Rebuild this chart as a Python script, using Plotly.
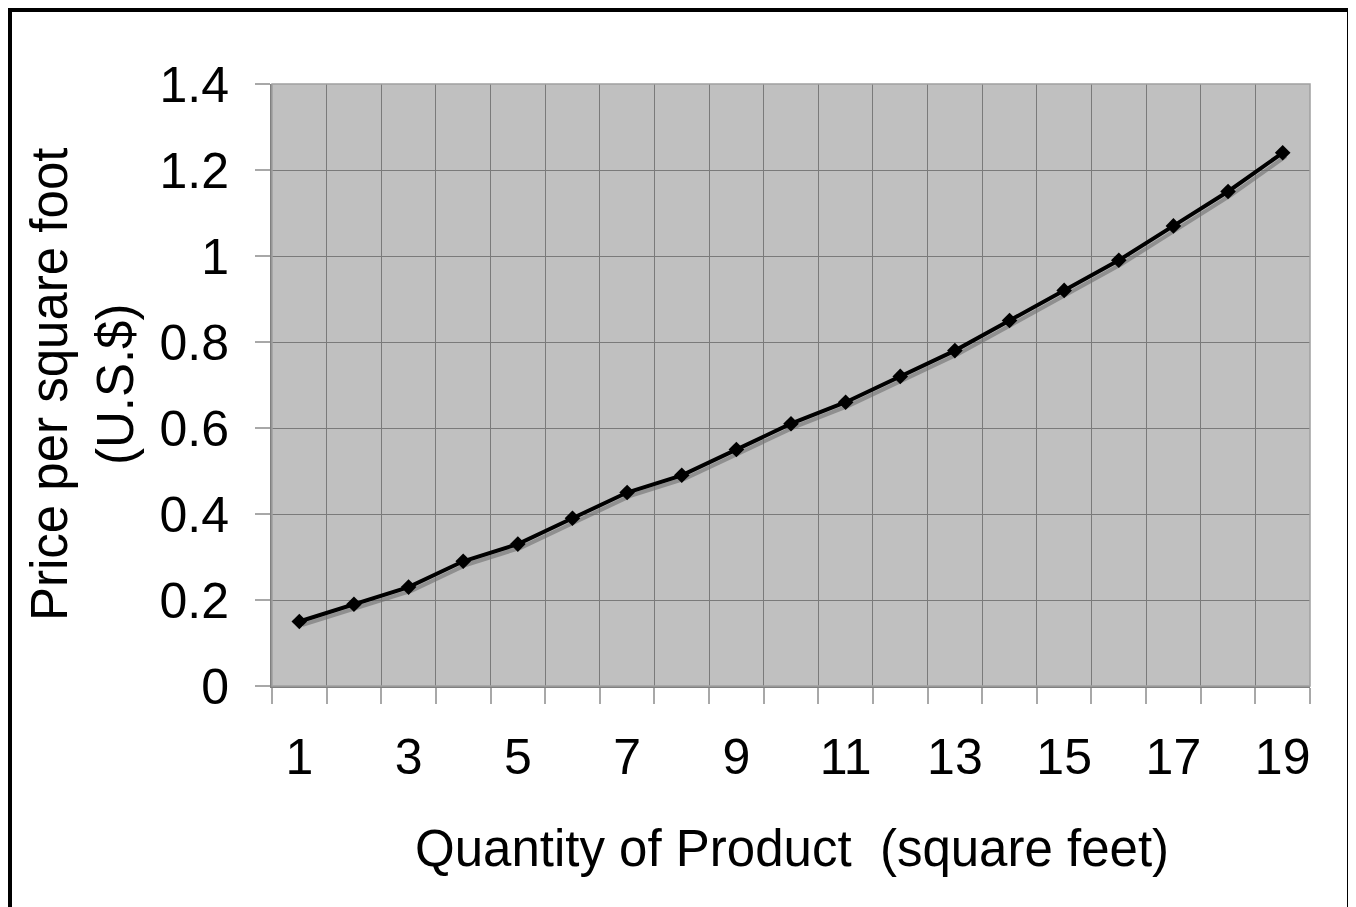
import plotly.graph_objects as go

quantity = list(range(1, 20))
price = [0.15, 0.19, 0.23, 0.29, 0.33, 0.39, 0.45, 0.49, 0.55, 0.61,
         0.66, 0.72, 0.78, 0.85, 0.92, 0.99, 1.07, 1.15, 1.24]
x_tick_labels = [1, 3, 5, 7, 9, 11, 13, 15, 17, 19]

FONT = "Liberation Sans, Arial, sans-serif"
# the page body adds an 8px offset, so target positions are shifted by -8
OFF = 8
L, R, T, B = 272 - OFF, 1310 - OFF, 84 - OFF, 686 - OFF
PLOT_W = R - L
PLOT_H = B - T

fig = go.Figure()
# soft drop shadow under the line (Excel style)
fig.add_trace(go.Scatter(
    x=[q + 0.06 for q in quantity], y=[p - 0.008 for p in price],
    mode="lines", line=dict(color="rgba(110,110,110,0.6)", width=4),
    hoverinfo="skip", showlegend=False,
))
fig.add_trace(go.Scatter(
    x=quantity, y=price, mode="lines+markers",
    line=dict(color="black", width=4),
    marker=dict(symbol="diamond", size=12, color="black"),
    showlegend=False,
))

fig.update_layout(
    width=1356, height=907,
    margin=dict(l=L, r=1356 - R, t=T, b=907 - B),
    paper_bgcolor="white",
    plot_bgcolor="#C0C0C0",
    font=dict(family=FONT, color="black", size=50),
    xaxis=dict(
        range=[0.5, 19.5], automargin=False,
        tickvals=x_tick_labels,
        ticktext=[str(v) for v in x_tick_labels],
        ticks="", showgrid=False, zeroline=False,
        showline=True, linecolor="#808080", linewidth=2,
        tickfont=dict(size=50),
        ticklabelstandoff=26,
        minor=dict(tick0=0.5, dtick=1, ticks="outside", ticklen=16,
                   tickcolor="#A8A8A8", tickwidth=1.5,
                   showgrid=True, gridcolor="#7A7A7A", gridwidth=1.3),
    ),
    yaxis=dict(
        range=[0, 1.4], dtick=0.2, tick0=0, automargin=False,
        ticks="outside", ticklen=15, tickcolor="#A8A8A8", tickwidth=1.5,
        showgrid=True, gridcolor="#7A7A7A", gridwidth=1.3,
        zeroline=False,
        showline=True, linecolor="#808080", linewidth=2,
        tickfont=dict(size=50),
        ticklabelstandoff=16,
    ),
    annotations=[
        dict(text="Quantity of Product  (square feet)", xref="paper", yref="paper",
             x=(792 - 272) / PLOT_W, y=-(848 - 686) / PLOT_H,
             xanchor="center", yanchor="middle", showarrow=False,
             font=dict(size=51)),
        dict(text="Price per square foot<br>(U.S.$)", xref="paper", yref="paper",
             x=-(272 - 82) / PLOT_W, y=0.5, textangle=-90,
             xanchor="center", yanchor="middle", showarrow=False,
             font=dict(size=51)),
    ],
    shapes=[
        dict(type="rect", xref="paper", yref="paper",
             x0=0, x1=1, y0=0, y1=1,
             line=dict(color="#A0A0A0", width=1.5), fillcolor="rgba(0,0,0,0)"),
        dict(type="rect", xref="paper", yref="paper",
             x0=(2 - L) / PLOT_W, x1=(1341 - L) / PLOT_W,
             y0=-0.5, y1=1 + (T - 2) / PLOT_H,
             line=dict(color="black", width=4), fillcolor="rgba(0,0,0,0)"),
    ],
)

fig.write_html("out.html")
